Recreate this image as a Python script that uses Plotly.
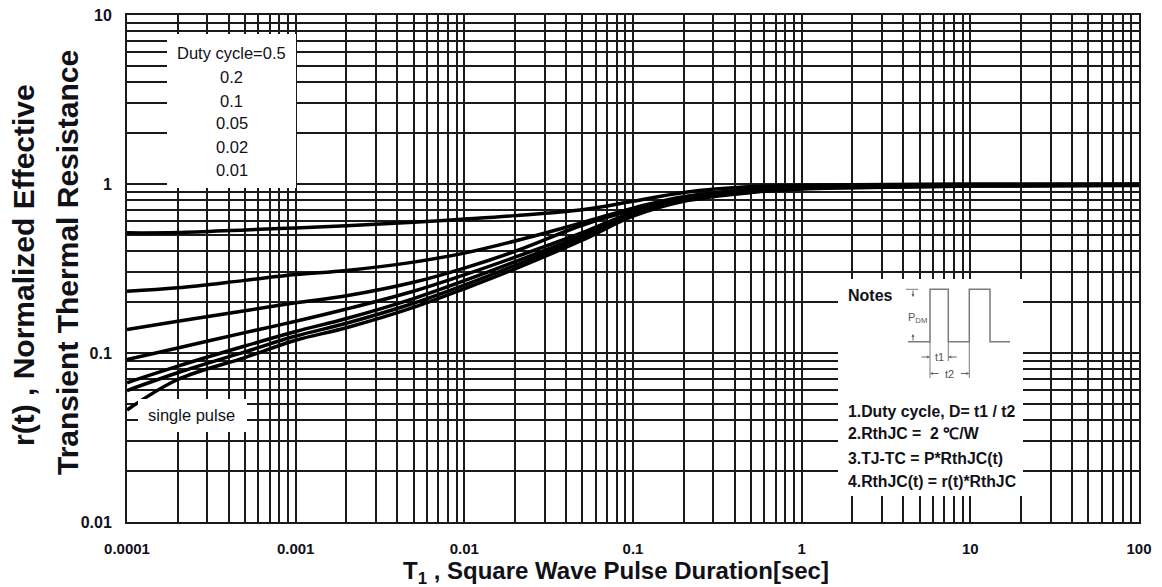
import plotly.graph_objects as go

# ---------------- data ----------------
t = [1e-4, 2e-4, 5e-4, 1e-3, 2e-3, 5e-3, 1e-2, 2e-2, 5e-2, 0.1, 0.2, 0.5, 1, 2, 10, 100]
r_d05 = [0.514, 0.516, 0.535, 0.55, 0.566, 0.594, 0.62, 0.65, 0.705, 0.79, 0.89, 0.965, 0.98, 0.99, 1.0, 1.0]
r_d02 = [0.232, 0.243, 0.269, 0.291, 0.308, 0.345, 0.39, 0.46, 0.59, 0.72, 0.84, 0.93, 0.965, 0.975, 0.99, 0.995]
r_d01 = [0.1377, 0.154, 0.178, 0.198, 0.218, 0.262, 0.318, 0.40, 0.57, 0.70, 0.83, 0.92, 0.96, 0.97, 0.985, 0.99]
r_d005 = [0.0916, 0.107, 0.132, 0.154, 0.182, 0.232, 0.29, 0.369, 0.515, 0.68, 0.815, 0.91, 0.95, 0.965, 0.98, 0.99]
r_d002 = [0.0667, 0.0836, 0.11, 0.134, 0.16, 0.21, 0.268, 0.347, 0.495, 0.665, 0.805, 0.90, 0.945, 0.96, 0.978, 0.985]
r_d001 = [0.06, 0.0764, 0.1016, 0.126, 0.15, 0.197, 0.252, 0.33, 0.48, 0.655, 0.80, 0.895, 0.94, 0.955, 0.975, 0.985]
r_single = [0.046, 0.0697, 0.094, 0.119, 0.141, 0.186, 0.24, 0.315, 0.465, 0.645, 0.79, 0.89, 0.935, 0.95, 0.972, 0.98]
series = [r_d05, r_d02, r_d01, r_d005, r_d002, r_d001, r_single]

x_decades = [1e-4, 1e-3, 1e-2, 0.1, 1, 10, 100]
x_labels = ["0.0001", "0.001", "0.01", "0.1", "1", "10", "100"]
y_decades = [0.01, 0.1, 1, 10]
y_labels = ["0.01", "0.1", "1", "10"]

legend_lines = ["Duty cycle=0.5", "0.2", "0.1", "0.05", "0.02", "0.01"]
notes_lines = ["1.Duty cycle, D= t1 / t2", "2.RthJC =  2 \u2103/W",
               "3.TJ-TC = P*RthJC(t)", "4.RthJC(t) = r(t)*RthJC"]

# ---------------- layout constants ----------------
OFF = 8                      # default page margin of the html body
W_FIG, H_FIG = 1162 - OFF, 587 - OFF
L, T, PW, PH = 127, 15, 1012, 507   # plot area in page pixels
ML, MT = L - OFF, T - OFF
MR = W_FIG - ML - PW
MB = H_FIG - MT - PH
INK = "#111118"
GRID = "#1a1a1a"
SANS = "Liberation Sans, Arial, sans-serif"


def px(x):
    return (x - L) / PW


def py(y):
    return 1 - (y - T) / PH


def log_ticks(decades, labels):
    vals, texts = [], []
    for i, d in enumerate(decades):
        if i == len(decades) - 1:
            vals.append(d)
            texts.append(labels[i])
        else:
            for k in range(1, 10):
                vals.append(k * d)
                texts.append(labels[i] if k == 1 else "")
    return vals, texts


xv, xt = log_ticks(x_decades, x_labels)
yv, yt = log_ticks(y_decades, y_labels)

fig = go.Figure()
for s in series:
    fig.add_trace(go.Scatter(x=t, y=s, mode="lines",
                             line=dict(color="black", width=3.5, shape="spline", smoothing=1.0),
                             showlegend=False, hoverinfo="skip"))

fig.update_layout(
    width=W_FIG, height=H_FIG,
    margin=dict(l=ML, r=MR, t=MT, b=MB),
    paper_bgcolor="white", plot_bgcolor="white",
    xaxis=dict(type="log", range=[-4, 2], tickmode="array", tickvals=xv, ticktext=xt,
               showgrid=True, gridcolor=GRID, gridwidth=1.5, zeroline=False,
               showline=True, mirror=True, linecolor=GRID, linewidth=2, ticks="",
               tickfont=dict(family=SANS, size=15, color=INK, weight="bold"),
               ticklabelstandoff=12, automargin=False, ticklabeloverflow="allow"),
    yaxis=dict(type="log", range=[-2, 1], tickmode="array", tickvals=yv, ticktext=yt,
               showgrid=True, gridcolor=GRID, gridwidth=1.5, zeroline=False,
               showline=True, mirror=True, linecolor=GRID, linewidth=2, ticks="",
               tickfont=dict(family=SANS, size=16, color=INK, weight="bold"),
               ticklabelstandoff=10, automargin=False, ticklabeloverflow="allow"),
)

shapes = []
# white panels covering the grid
for (x0, y0, x1, y1) in [(167, 34, 296, 188), (838, 279, 1023, 496), (138, 399, 247, 432)]:
    shapes.append(dict(type="rect", xref="paper", yref="paper",
                       x0=px(x0), x1=px(x1), y0=py(y1), y1=py(y0),
                       fillcolor="white", line=dict(width=0), layer="above"))

# pulse diagram in the notes panel
wave = [(908, 341.7), (930, 341.7), (930, 289.3), (948.3, 289.3), (948.3, 341.7),
        (969.3, 341.7), (969.3, 289.3), (990, 289.3), (990, 341.7), (1010, 341.7)]
path = "M " + " L ".join(f"{px(x):.5f},{py(y):.5f}" for x, y in wave)
shapes.append(dict(type="path", xref="paper", yref="paper", path=path,
                   line=dict(color="#7a7a7a", width=1.5), layer="above"))
for (x0, y0, x1, y1) in [(930, 341.7, 930, 378), (948.3, 341.7, 948.3, 361), (969.3, 341.7, 969.3, 378),
                         (906, 289.3, 918, 289.3)]:
    shapes.append(dict(type="line", xref="paper", yref="paper",
                       x0=px(x0), x1=px(x1), y0=py(y0), y1=py(y1),
                       line=dict(color="#7a7a7a", width=1), layer="above"))
fig.update_layout(shapes=shapes)

ann = []
legend_y = [53.3, 77.3, 101, 123.5, 146.7, 170]
for txt, y in zip(legend_lines, legend_y):
    ann.append(dict(x=px(231.5), y=py(y), xref="paper", yref="paper", text=txt,
                    showarrow=False, xanchor="center", yanchor="middle",
                    font=dict(family=SANS, size=16.5, color=INK)))
ann.append(dict(x=px(191.7), y=py(415), xref="paper", yref="paper", text="single pulse",
                showarrow=False, xanchor="center", yanchor="middle",
                font=dict(family=SANS, size=16.5, color=INK)))
ann.append(dict(x=px(846), y=py(295), xref="paper", yref="paper", text="<b>Notes</b>",
                showarrow=False, xanchor="left", yanchor="middle",
                font=dict(family=SANS, size=16, color=INK)))
for txt, y in zip(notes_lines, [411.7, 433.3, 458.3, 481.7]):
    ann.append(dict(x=px(846), y=py(y), xref="paper", yref="paper", text=f"<b>{txt}</b>",
                    showarrow=False, xanchor="left", yanchor="middle",
                    font=dict(family=SANS, size=15.8, color=INK)))
# pulse diagram labels
ann.append(dict(x=px(917), y=py(318), xref="paper", yref="paper", text="P<sub>DM</sub>",
                showarrow=False, xanchor="center", yanchor="middle",
                font=dict(family=SANS, size=11, color="#555")))
ann.append(dict(x=px(939), y=py(357), xref="paper", yref="paper", text="t1",
                showarrow=False, xanchor="center", yanchor="middle",
                font=dict(family=SANS, size=11, color="#555")))
ann.append(dict(x=px(949), y=py(373.5), xref="paper", yref="paper", text="t2",
                showarrow=False, xanchor="center", yanchor="middle",
                font=dict(family=SANS, size=11, color="#555")))
for (x, y, ax, ay) in [(930, 357, -10, 0), (948.3, 357, 10, 0), (930, 373.5, 10, 0), (969.3, 373.5, -10, 0),
                       (913, 297, 0, -8), (913, 334, 0, 8)]:
    ann.append(dict(x=px(x), y=py(y), xref="paper", yref="paper", text="", showarrow=True,
                    ax=ax, ay=ay, arrowhead=2, arrowsize=0.6, arrowwidth=1, arrowcolor="#666"))
# axis titles
ann.append(dict(x=px(616), y=py(572), xref="paper", yref="paper",
                text="<b>T<sub>1</sub> , Square Wave Pulse Duration[sec]</b>",
                showarrow=False, xanchor="center", yanchor="middle",
                font=dict(family=SANS, size=24, color=INK)))
ann.append(dict(x=px(23), y=py(265), xref="paper", yref="paper",
                text="<b>r(t) , Normalized Effective</b>", textangle=-90,
                showarrow=False, xanchor="center", yanchor="middle",
                font=dict(family=SANS, size=30, color=INK)))
ann.append(dict(x=px(67), y=py(263), xref="paper", yref="paper",
                text="<b>Transient Thermal Resistance</b>", textangle=-90,
                showarrow=False, xanchor="center", yanchor="middle",
                font=dict(family=SANS, size=30, color=INK)))
fig.update_layout(annotations=ann)

fig.write_html("out.html")
